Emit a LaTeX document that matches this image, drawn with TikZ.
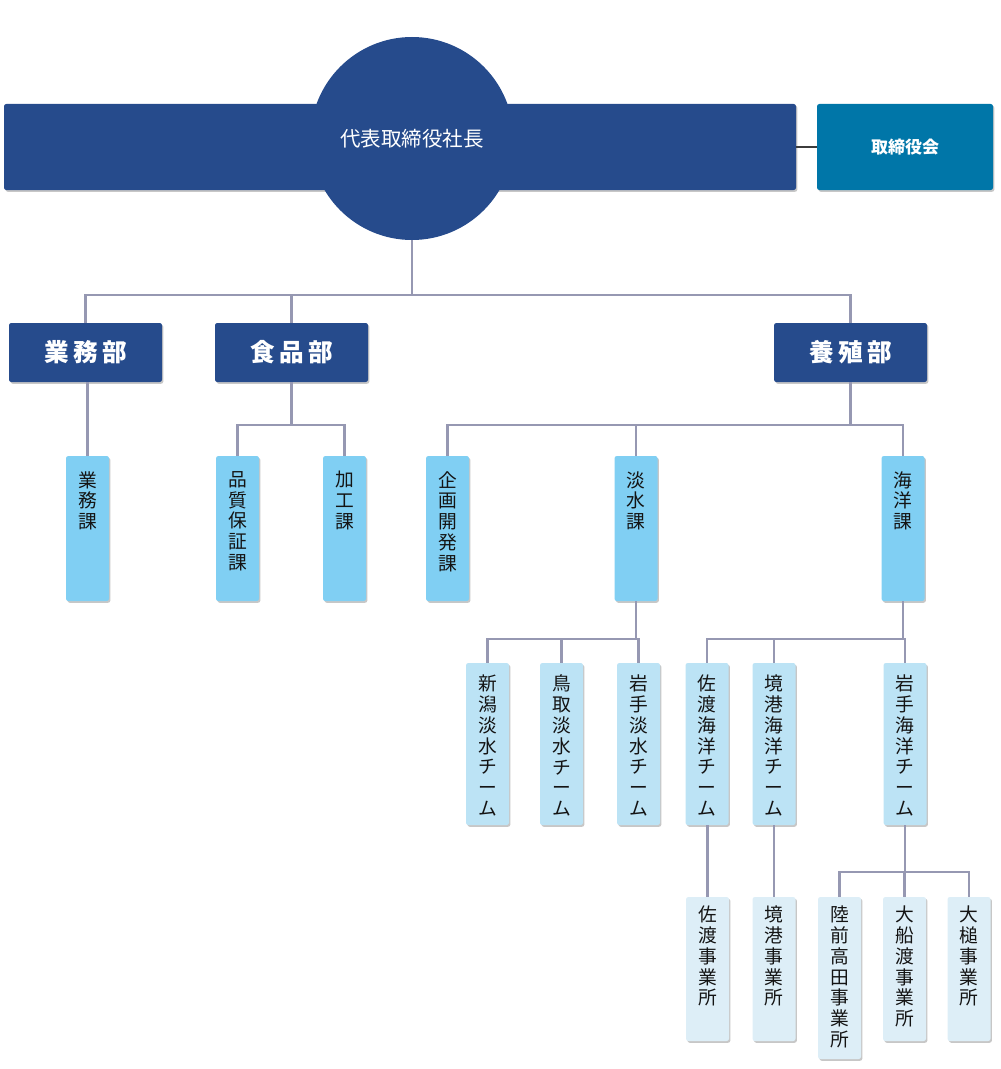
\documentclass[tikz,border=0pt]{standalone}
\usepackage{fontspec}
\setmainfont{Noto Sans CJK JP}
\newfontfamily\deptfont[LetterSpace=18]{Noto Sans CJK JP}
\usepackage{xcolor}
\usepackage{tikz}
\usetikzlibrary{shadows,positioning}

\definecolor{navy}{RGB}{38,75,140}
\definecolor{boardteal}{RGB}{0,118,168}
\definecolor{sectblue}{RGB}{128,207,243}
\definecolor{teamblue}{RGB}{188,227,245}
\definecolor{officeblue}{RGB}{221,238,247}
\definecolor{linkgray}{RGB}{150,152,178}
\definecolor{boardline}{RGB}{60,60,60}
\definecolor{inkblack}{RGB}{20,20,20}

\begin{document}
\begin{tikzpicture}[
    x=0.03cm, y=-0.03cm,
    softshadow/.style={drop shadow={shadow xshift=1.2pt, shadow yshift=-1.5pt, fill=black, opacity=0.22}},
    topbar/.style={
        rectangle, fill=navy, rounded corners=2pt, softshadow,
        minimum width=792*0.03cm, minimum height=86*0.03cm
    },
    topcirc/.style={
        circle, fill=navy, minimum size=203*0.03cm, inner sep=0pt,
        text=white, font=\fontsize{17.5}{17.5}\selectfont
    },
    boardbox/.style={
        rectangle, fill=boardteal, rounded corners=2pt, softshadow,
        minimum width=176*0.03cm, minimum height=86*0.03cm,
        text=white, font=\fontsize{14.5}{14.5}\selectfont\bfseries
    },
    deptbox/.style={
        rectangle, fill=navy, rounded corners=2pt, softshadow,
        minimum width=153*0.03cm, minimum height=59*0.03cm,
        text=white, font=\deptfont\fontsize{21}{21}\selectfont\bfseries
    },
    sectbox/.style={
        rectangle, fill=sectblue, rounded corners=2pt, softshadow,
        minimum width=43*0.03cm, minimum height=145*0.03cm, inner sep=0pt
    },
    teambox/.style={sectbox, fill=teamblue, minimum height=162*0.03cm},
    officebox/.style={sectbox, fill=officeblue, minimum height=144*0.03cm},
    vtext/.style={
        anchor=north, align=center, inner sep=0pt, text=inkblack,
        font=\fontsize{16}{17.75}\selectfont
    },
    sectlbl/.style={vtext, yshift=-0.46cm},
    teamlbl/.style={vtext, yshift=-0.36cm},
    officelbl/.style={vtext, yshift=-0.27cm},
    link/.style={draw=linkgray, line width=1.8pt},
    boardlink/.style={draw=boardline, line width=2pt}
]
    \useasboundingbox (0,0) rectangle (1000,1069);

    % top
    \node[topbar] (ceobar) at (400,147) {};
    \node[topcirc] (ceo) at (412,138.5) {代表取締役社長};
    \node[boardbox] (board) at (905,147) {取締役会};
    \draw[boardlink] (ceobar) -- (board);

    % departments
    \node[deptbox] (gyomubu) at (85.5,352.5) {業務部};
    \node[deptbox] (shokuhinbu) at (291.5,352.5) {食品部};
    \node[deptbox] (yoshokubu) at (850.5,352.5) {養殖部};

    \draw[link] (ceo.south) -- ++(0,55) coordinate (topbus);
    \draw[link] (topbus) -| (gyomubu.north);
    \draw[link] (topbus) -| (shokuhinbu.north);
    \draw[link] (topbus) -| (yoshokubu.north);

    % sections
    \node[sectbox, label={[sectlbl]north:{業\\務\\課}}] (gyomuka) at (87.5,528.5) {};
    \node[sectbox, label={[sectlbl]north:{品\\質\\保\\証\\課}}] (hinshitsuka) at (237.5,528.5) {};
    \node[sectbox, label={[sectlbl]north:{加\\工\\課}}] (kakoka) at (344.5,528.5) {};
    \node[sectbox, label={[sectlbl]north:{企\\画\\開\\発\\課}}] (kikakuka) at (447.5,528.5) {};
    \node[sectbox, label={[sectlbl]north:{淡\\水\\課}}] (tansuika) at (636,528.5) {};
    \node[sectbox, label={[sectlbl]north:{海\\洋\\課}}] (kaiyoka) at (903,528.5) {};

    \draw[link] (gyomuka.north |- gyomubu.south) -- (gyomuka.north);

    \draw[link] (shokuhinbu.south) -- ++(0,43) coordinate (foodbus);
    \draw[link] (foodbus) -| (hinshitsuka.north);
    \draw[link] (foodbus) -| (kakoka.north);

    \draw[link] (yoshokubu.south) -- ++(0,43) coordinate (farmbus);
    \draw[link] (farmbus) -| (kikakuka.north);
    \draw[link] (farmbus) -| (tansuika.north);
    \draw[link] (farmbus) -| (kaiyoka.north);

    % teams
    \node[teambox, label={[teamlbl]north:{新\\潟\\淡\\水\\チ\\ー\\ム}}] (niigatateam) at (487.5,744) {};
    \node[teambox, label={[teamlbl]north:{鳥\\取\\淡\\水\\チ\\ー\\ム}}] (tottoriteam) at (561.5,744) {};
    \node[teambox, label={[teamlbl]north:{岩\\手\\淡\\水\\チ\\ー\\ム}}] (iwatefresh) at (638.5,744) {};
    \node[teambox, label={[teamlbl]north:{佐\\渡\\海\\洋\\チ\\ー\\ム}}] (sadoteam) at (707,744) {};
    \node[teambox, label={[teamlbl]north:{境\\港\\海\\洋\\チ\\ー\\ム}}] (sakaiteam) at (774,744) {};
    \node[teambox, label={[teamlbl]north:{岩\\手\\海\\洋\\チ\\ー\\ム}}] (iwatemarine) at (905,744) {};

    \draw[link] (tansuika.south) -- ++(0,38) coordinate (freshbus);
    \draw[link] (freshbus) -| (niigatateam.north);
    \draw[link] (freshbus) -| (tottoriteam.north);
    \draw[link] (freshbus) -| (iwatefresh.north);

    \draw[link] (kaiyoka.south) -- ++(0,38) coordinate (marinebus);
    \draw[link] (marinebus) -| (sadoteam.north);
    \draw[link] (marinebus) -| (sakaiteam.north);
    \draw[link] (marinebus) -| (iwatemarine.north);

    % offices
    \node[officebox, label={[officelbl]north:{佐\\渡\\事\\業\\所}}] (sadooffice) at (707.5,969) {};
    \node[officebox, label={[officelbl]north:{境\\港\\事\\業\\所}}] (sakaioffice) at (774,969) {};
    \node[officebox, minimum height=162*0.03cm,
          label={[officelbl]north:{陸\\前\\高\\田\\事\\業\\所}}] (rikuzenoffice) at (839.5,978) {};
    \node[officebox, label={[officelbl]north:{大\\船\\渡\\事\\業\\所}}] (ofunatooffice) at (904.5,969) {};
    \node[officebox, label={[officelbl]north:{大\\槌\\事\\業\\所}}] (otsuchioffice) at (969,969) {};

    \draw[link] (sadooffice.north |- sadoteam.south) -- (sadooffice.north);
    \draw[link] (sakaioffice.north |- sakaiteam.south) -- (sakaioffice.north);
    \draw[link] (iwatemarine.south) -- ++(0,47) coordinate (iwatebus);
    \draw[link] (iwatebus) -| (rikuzenoffice.north);
    \draw[link] (iwatebus) -| (ofunatooffice.north);
    \draw[link] (iwatebus) -| (otsuchioffice.north);
\end{tikzpicture}
\end{document}
